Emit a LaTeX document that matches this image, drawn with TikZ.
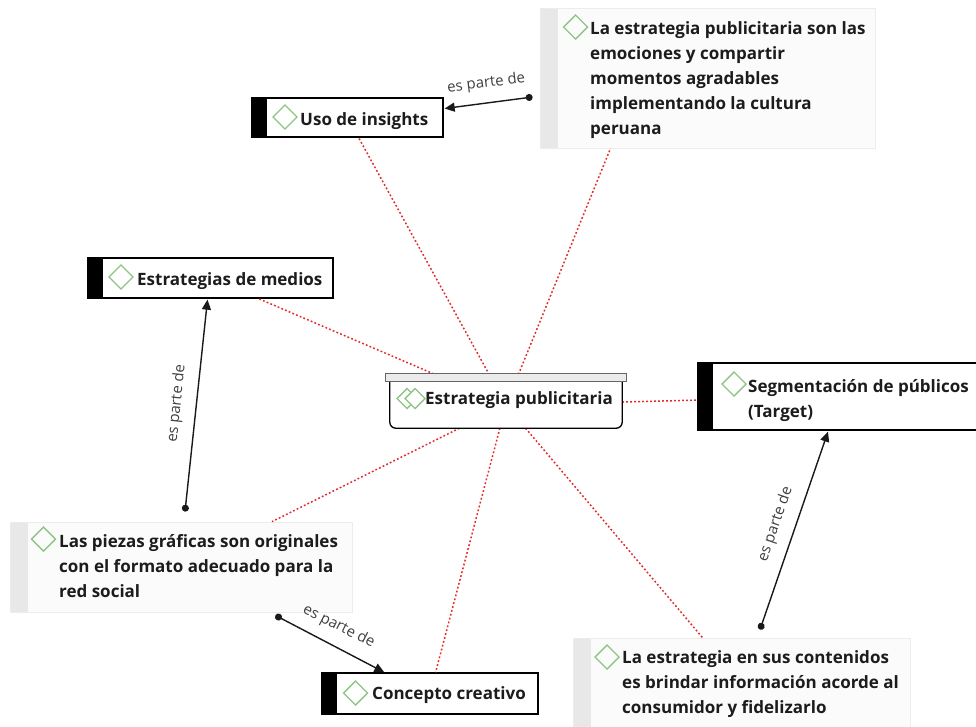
\documentclass[tikz,border=0pt]{standalone}
\usepackage{fontspec}
\setmainfont{Open Sans}
\usetikzlibrary{arrows.meta,calc}

\definecolor{gem}{RGB}{141,198,131}
\definecolor{ink}{RGB}{28,28,28}
\definecolor{notefill}{RGB}{251,251,251}
\definecolor{noteedge}{RGB}{236,236,236}
\definecolor{notestrip}{RGB}{232,232,232}
\definecolor{linkred}{RGB}{226,44,44}

\newcommand\conceptfont{\fontsize{17}{25}\selectfont\bfseries}
\newcommand\firstline{\rule{0pt}{17pt}}

\begin{document}
\begin{tikzpicture}[x=1pt,y=-1pt,
  concept/.style={draw=black, line width=1.3pt, fill=white, inner sep=0,
    path picture={\fill[black] (path picture bounding box.north west)
      rectangle ([xshift=15pt]path picture bounding box.south west);}},
  note/.style={draw=noteedge, line width=0.8pt, fill=notefill, inner sep=0,
    path picture={\fill[notestrip] (path picture bounding box.north west)
      rectangle ([xshift=18pt]path picture bounding box.south west);}},
  txt/.style={inner sep=0, anchor=base west, align=left, text=ink, font=\conceptfont},
  txtblock/.style={txt, anchor=north west},
  gemicon/.style={draw=gem, line width=1.4pt},
  rel/.style={draw=linkred, line width=1.5pt, dash pattern=on 1.8pt off 2.2pt},
  partof/.style={draw=black!90, line width=1.4pt,
    {Circle[length=7pt]}-{Triangle[length=10pt,width=9pt]}},
  lbl/.style={font=\fontsize{15}{17}\selectfont, text=black!75,
    inner sep=2pt, outer sep=10pt, anchor=south}
]
\useasboundingbox (0,0) rectangle (976,726);

% ---- notes ----
\node[note, minimum width=335, minimum height=140] (note1) at (707.5,78) {};
\node[note, minimum width=342, minimum height=90] (note2) at (181,567) {};
\node[note, minimum width=337, minimum height=92] (note3) at (741.5,684) {};

% ---- concept boxes ----
\node[concept, minimum width=191, minimum height=39] (uso) at (347.5,117.5) {};
\node[concept, minimum width=245, minimum height=40] (medios) at (210.5,278) {};
\node[concept, minimum width=280, minimum height=67] (target) at (838,396.5) {};
\node[concept, minimum width=216, minimum height=41] (concepto) at (430,693.5) {};

% central topic (outline drawn after the links)
\node[inner sep=0, minimum width=232, minimum height=46] (central) at (506,405) {};

% ---- relations to the central topic ----
\draw[rel] (central) -- (uso);
\draw[rel] (central) -- ([xshift=-97pt]note1.south);
\draw[rel] (central) -- (medios);
\draw[rel] (central) -- (target);
\draw[rel] (central) -- (note2);
\draw[rel] (central) -- (concepto);
\draw[rel] (central) -- (note3);

\draw[line width=1.3pt, rounded corners=6pt, fill=white]
  (central.north west) -- (central.south west) -- (central.south east) -- (central.north east);
\draw[draw=black!60, fill=black!8, line width=1pt]
  ($(central.north west)+(-4,-8)$) rectangle ($(central.north east)+(4,0)$);

% ---- "es parte de" links ----
\draw[partof] ($(note1.west)+(-7,19)$) -- node[lbl, rotate=7] {es parte de} ($(uso.east)+(1,-9)$);
\draw[partof] ($(note2.north)+(4,-10)$) -- node[lbl, rotate=84] {es parte de} ($(medios.south)+(-3,1)$);
\draw[partof] ($(note3.north)+(18.5,-8)$) -- node[lbl, rotate=71] {es parte de} ($(target.south)+(-10,1)$);
\draw[partof] ($(note2.south east)+(-77,3)$) -- node[lbl, rotate=-27] {es parte de} ($(concepto.north west)+(63,0)$);

% ---- diamond icons ----
\foreach \cx/\cy in {285/117, 121/277, 734/384, 355.5/693, 575.5/27, 43.5/539, 607/657}
  \draw[gemicon] (\cx-12,\cy) -- (\cx,\cy-12) -- (\cx+12,\cy) -- (\cx,\cy+12) -- cycle;
\draw[gemicon] (397,398.5) -- (407,388.5) -- (417,398.5) -- (407,408.5) -- cycle;
\draw[gemicon, fill=white] (405,398.5) -- (415,388.5) -- (425,398.5) -- (415,408.5) -- cycle;

% ---- texts ----
\node[txt] (t-central) at (425,404) {Estrategia publicitaria};
\node[txt] (t-uso) at (300,125) {Uso de insights};
\node[txt] (t-medios) at (137,285) {Estrategias de medios};
\node[txt] (t-concepto) at (372,699) {Concepto creativo};
\node[txtblock] (t-target) at (748,375) {\firstline Segmentación de públicos\\(Target)};
\node[txtblock] (t-note1) at (590,17) {\firstline La estrategia publicitaria son las\\emociones y compartir\\momentos agradables\\implementando la cultura\\peruana};
\node[txtblock] (t-note2) at (59,530) {\firstline Las piezas gráficas son originales\\con el formato adecuado para la\\red social};
\node[txtblock] (t-note3) at (622,646) {\firstline La estrategia en sus contenidos\\es brindar información acorde al\\consumidor y fidelizarlo};
\end{tikzpicture}
\end{document}
